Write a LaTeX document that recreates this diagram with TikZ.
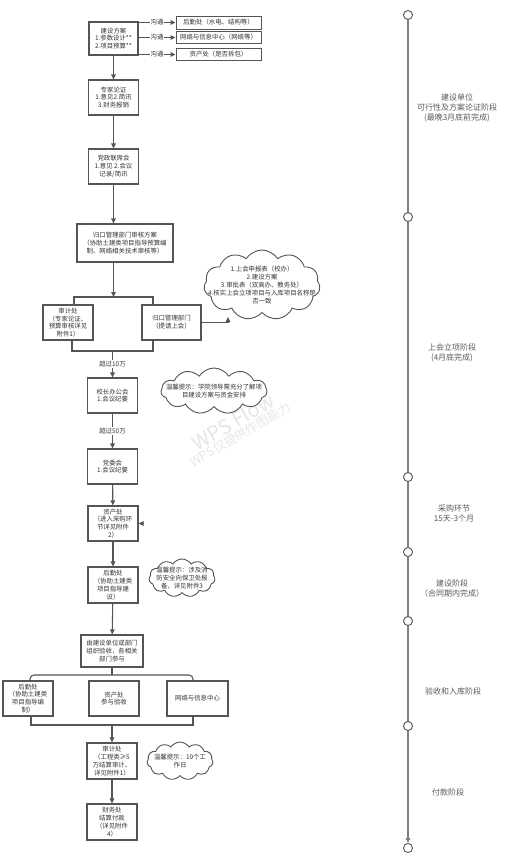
\documentclass[tikz,border=0pt]{standalone}
\usepackage{fontspec}
\newfontfamily\cjk{Noto Sans CJK SC}
\usetikzlibrary{shapes.symbols, arrows.meta, positioning}
\definecolor{boxline}{HTML}{555555}
\definecolor{boxtext}{HTML}{333333}
\definecolor{axisgray}{HTML}{7F7F7F}
\definecolor{markgray}{HTML}{E6E6E6}

\begin{document}
\begin{tikzpicture}[
    x=1pt, y=-1pt,
    every node/.style={font=\cjk\fontsize{6.4}{7.8}\selectfont, text=boxtext},
    box/.style={rectangle, draw=boxline, line width=1.1pt, fill=white, align=center, inner sep=1pt, minimum width=50pt, minimum height=35pt},
    sidebox/.style={box, line width=0.9pt, minimum width=85pt, minimum height=12pt},
    tipcloud/.style={cloud, cloud puffs=11, cloud puff arc=115, cloud ignores aspect, draw=boxline, line width=0.9pt, fill=white, inner sep=0pt},
    tiptext/.style={align=center, inner sep=0pt},
    arr/.style={-{Triangle[length=5pt, width=4.5pt]}, line width=1.1pt, draw=boxline},
    line/.style={line width=1.1pt, draw=boxline},
    lbl/.style={fill=white, inner sep=1pt},
    dot/.style={circle, draw=boxline, line width=0.9pt, fill=white, minimum size=9pt, inner sep=0pt},
    axis/.style={line width=1.2pt, draw=axisgray},
    stage/.style={font=\cjk\fontsize{8}{10}\selectfont, text=black!65, align=center},
]
\useasboundingbox (0,0) rectangle (509,863);

% Watermark
\node[rotate=30, text=markgray, align=center, font=\cjk] (mark) at (236,427)
  {{\fontsize{20}{20}\selectfont WPS Flow}\\{\fontsize{12.5}{14}\selectfont WPS仅提供作图能力}};

% Nodes
\node[box, minimum width=49pt, minimum height=33pt] (plan) at (113.5,38.5) {建设方案\\1.参数设计**\\2.项目预算**};
\node[sidebox, minimum height=13pt] (hq) at (218.5,22.5) {后勤处（水电、结构等）};
\node[sidebox] (net) at (218.5,37.5) {网络与信息中心（网络等）};
\node[sidebox] (asset) at (218.5,54.5) {资产处（是否拆包）};

\node[box] (expert) at (113.5,97.5) {专家论证\\1.意见2.简讯\\3.财务报销};
\node[box] (party) at (113.5,166.5) {党政联席会\\1.意见 2.会议\\记录/简讯};

\node[box, minimum width=96pt, minimum height=38pt] (scheme) at (125,243) {归口管理部门审核方案\\（协助土建类项目指导预算编\\制、网络相关技术审核等）};

\node[box] (audit) at (68,322.5) {审计处\\（专家论证、\\预算审核详见\\附件1）};
\node[box, minimum width=59pt] (dept) at (171.5,322.5) {归口管理部门\\（提请上会）};

\node[tipcloud, minimum width=116pt, minimum height=70pt,
      label={[tiptext]center:1.上会申报表（校办）\\2.建设方案\\3.审批表（双高办、教务处）\\4.核实上会立项项目与入库项目名称是\\否一致}] (report) at (262,285) {};

\node[box] (office) at (112.5,395.5) {校长办公会\\1.会议纪要};
\node[tipcloud, minimum width=106pt, minimum height=46pt,
      label={[tiptext]center:温馨提示：学院领导需充分了解项\\目建设方案与资金安排}] (tipA) at (214,391) {};

\node[box] (committee) at (112.5,466.5) {党委会\\1.会议纪要};
\node[box] (procure) at (113,523.5) {资产处\\（进入采购环\\节详见附件\\2）};
\node[box, minimum height=36pt] (build) at (113,585) {后勤处\\（协助土建类\\项目指导建\\设）};
\node[tipcloud, minimum width=66pt, minimum height=38pt,
      label={[tiptext]center:温馨提示：涉及消\\防安全向保卫处报\\备，详见附件3}] (tipB) at (182,578) {};

\node[box, minimum width=62pt, minimum height=32pt] (accept) at (112,651) {由建设单位或部门\\组织验收，各相关\\部门参与};
\node[box] (hqcheck) at (28,698.5) {后勤处\\（协助土建类\\项目指导编\\制）};
\node[box] (assetcheck) at (114,698.5) {资产处\\参与验收};
\node[box, minimum width=61pt] (netcheck) at (197.5,698.5) {网络与信息中心};

\node[box, minimum height=36pt] (settle) at (112,761) {审计处\\（工程类≥5\\万结算审计、\\详见附件1）};
\node[tipcloud, minimum width=66pt, minimum height=38pt,
      label={[tiptext]center:温馨提示：10个工\\作日}] (tipC) at (180,761) {};
\node[box, minimum height=36pt] (pay) at (112,822) {财务处\\结算付款\\（详见附件\\4）};

% Timeline
\node[dot] (t0) at (408,15) {};
\node[dot] (t1) at (408,217) {};
\node[dot] (t2) at (408,477) {};
\node[dot] (t3) at (408,552) {};
\node[dot] (t4) at (408,621) {};
\node[dot] (t5) at (408,726) {};
\node[dot] (t6) at (408,848) {};

\node[stage] (s0) at (457,108) {建设单位\\可行性及方案论证阶段\\(最晚3月底前完成)};
\node[stage] (s1) at (452,353) {上会立项阶段\\(4月底完成)};
\node[stage] (s2) at (454,513) {采购环节\\15天-3个月};
\node[stage] (s3) at (452,588) {建设阶段\\（合同期内完成）};
\node[stage] (s4) at (453,691) {验收和入库阶段};
\node[stage] (s5) at (448,792) {付款阶段};

% Helper points
\coordinate (splitT) at (113.5,297);
\coordinate (splitL) at (74,297);
\coordinate (splitR) at (153,297);
\coordinate (joinT) at (112.5,351);
\coordinate (joinL) at (72,351);
\coordinate (joinR) at (153,351);
\coordinate (reportIn) at (228,317);
\coordinate (backIn) at (143,523.5);
\coordinate (braceT) at (112,675);
\coordinate (braceL) at (30,675);
\coordinate (braceR) at (193,675);
\coordinate (mergeT) at (112,725);
\coordinate (mergeL) at (31,725);
\coordinate (mergeR) at (193,725);

% Arrows
\draw[arr, line width=0.9pt] (plan.east |- hq.west) -- node[lbl] {沟通} (hq.west);
\draw[arr, line width=0.9pt] (plan.east |- net.west) -- node[lbl] {沟通} (net.west);
\draw[arr, line width=0.9pt] (plan.east |- asset.west) -- node[lbl] {沟通} (asset.west);

\draw[arr] (plan) -- (expert);
\draw[arr] (expert) -- (party);
\draw[arr] (party.south) -- (party.south |- scheme.north);
\draw[arr] (scheme.south -| splitT) -- (splitT);

% Split and join round the two reviewers
\draw[line] (splitL |- audit.north) -- (splitL) -- (splitR) -- (splitR |- dept.north);
\draw[line] (joinL |- audit.south) -- (joinL) -- (joinR) -- (joinR |- dept.south);
\draw[arr] (dept.east) -| (reportIn);

\draw[arr] (joinT) -- node[lbl] {超过10万} (office);
\draw[arr] (office) -- node[lbl] {超过50万} (committee);
\draw[arr] (committee) -- (procure);
\draw[arr] (backIn) -- (procure.east);
\draw[arr] (procure) -- (build);
\draw[arr] (build) -- (accept);

% Acceptance brace
\draw[line] (accept.south) -- (braceT);
\draw[line, rounded corners=4pt] (hqcheck.north -| braceL) |- (braceT) -| (netcheck.north -| braceR);
\draw[line] (hqcheck.south -| mergeL) -- (mergeL) -- (mergeR) -- (netcheck.south -| mergeR);
\draw[arr] (mergeT) -- (settle);
\draw[arr] (settle) -- (pay);

% Timeline line
\draw[axis] (t0) -- (t1);
\draw[axis] (t1) -- (t2);
\draw[axis] (t2) -- (t3);
\draw[axis] (t3) -- (t4);
\draw[axis] (t4) -- (t5);
\draw[axis, -{Triangle[length=5pt, width=4.5pt]}] (t5) -- (t6);

\end{tikzpicture}
\end{document}
